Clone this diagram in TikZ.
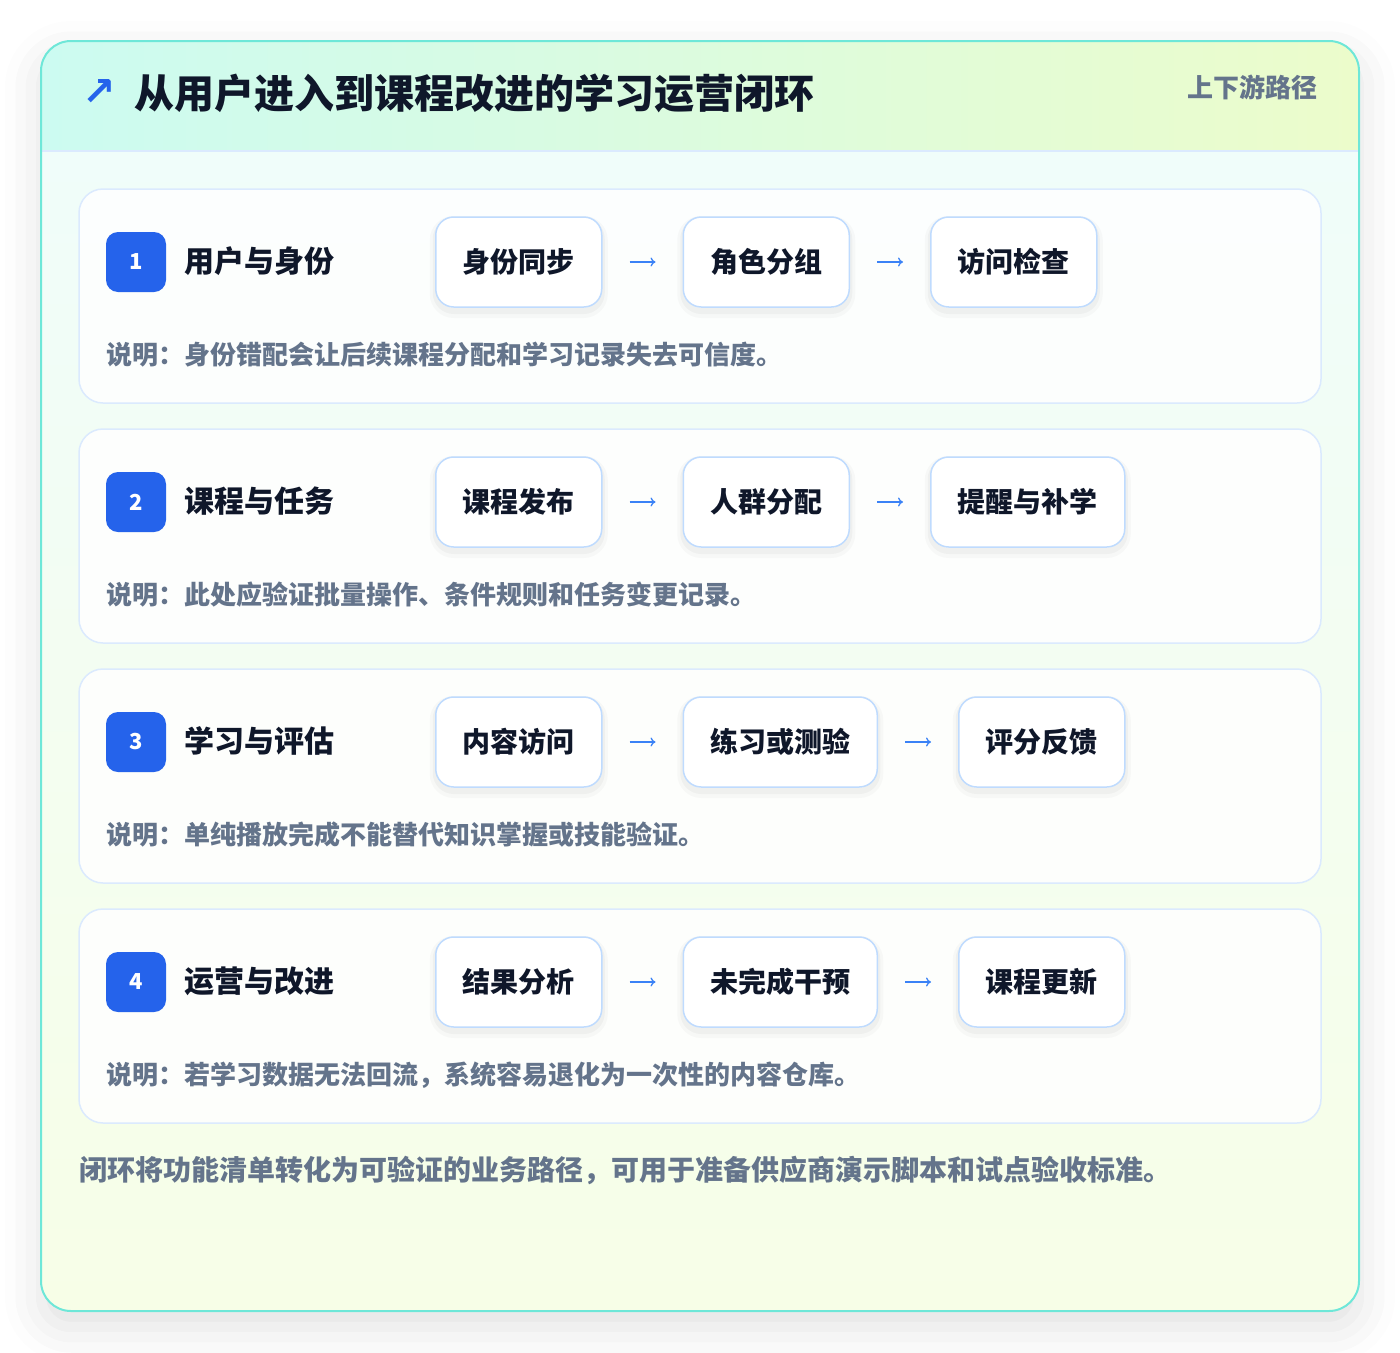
\documentclass[tikz,border=0pt]{standalone}
\usepackage{fontspec}
\setmainfont{Noto Sans CJK SC}
\newfontfamily\symfont{DejaVu Sans}
\usetikzlibrary{positioning}
\usetikzlibrary{arrows.meta}
\usetikzlibrary{shadows.blur}
\definecolor{ink}{HTML}{0F172A}
\definecolor{muted}{HTML}{64748B}
\definecolor{mblue}{HTML}{2563EB}
\definecolor{lblue}{HTML}{3B82F6}
\definecolor{boxedge}{HTML}{BFDBFE}
\definecolor{cardedge}{HTML}{DBEAFE}
\definecolor{mteal}{HTML}{6EE7D8}
\definecolor{headl}{HTML}{CCFBF1}
\definecolor{headr}{HTML}{ECFCCB}
\definecolor{bodyt}{HTML}{F0FDFA}
\definecolor{bodyb}{HTML}{F7FEE7}
\tikzset{badge/.style = {fill = mblue, rounded corners = 12pt, minimum size = 60pt, inner sep = 0pt,
    text = white, font = \bfseries\fontsize{22}{26}\selectfont}}
\tikzset{stagehead/.style = {anchor = west, inner sep = 0pt, text = ink, font = \bfseries\fontsize{30}{34}\selectfont}}
\tikzset{softshadow/.style = {preaction = {draw = black, draw opacity = 0.025, line width = 12pt,
    transform canvas = {yshift = -5pt}}, preaction = {draw = black, draw opacity = 0.03, line width = 6pt,
    transform canvas = {yshift = -4pt}}}}
\tikzset{stepbox/.style = {draw = boxedge, line width = 1.5pt, fill = white, rounded corners = 18pt,
    minimum width = 166pt, minimum height = 90pt, inner xsep = 27pt, text = ink,
    font = \bfseries\fontsize{28}{32}\selectfont, softshadow}}
\tikzset{card/.style = {draw = cardedge, line width = 1.5pt, fill = white, fill opacity = 0.85, rounded corners = 24pt}}
\tikzset{note/.style = {anchor = west, inner sep = 0pt, text = muted, font = \bfseries\fontsize{26}{30}\selectfont}}
\tikzset{flow/.style = {lblue, line width = 1.3pt, -{To[length = 5pt, width = 9pt]}}}

\begin{document}
\begin{tikzpicture}[x = 1pt, y = -1pt]
  \useasboundingbox (0, 0) rectangle (1400, 1352);
  \path [rounded corners = 30pt, fill = white,
    blur shadow = {shadow xshift = 0pt, shadow yshift = -16pt, shadow blur radius = 36pt, shadow opacity = 12}]
    (41, 41) rectangle (1359, 1311);
  \begin{scope}
    \clip [rounded corners = 30pt] (41, 41) rectangle (1359, 1311);
    \shade [top color = bodyt, bottom color = bodyb] (41, 151) rectangle (1359, 1311);
    \shade [left color = headl, right color = headr] (41, 41) rectangle (1359, 151);
    \draw [cardedge, line width = 2pt] (41, 151) -- (1359, 151);
  \end{scope}
  \draw [mteal, line width = 2pt, rounded corners = 30pt] (41, 41) rectangle (1359, 1311);

  \node [text = mblue, font = \symfont\bfseries\fontsize{40}{44}\selectfont] (icon) at (99, 93) {↗};
  \node [anchor = west, inner sep = 0pt, text = ink, font = \bfseries\fontsize{40}{46}\selectfont]
    (title) at (134, 93) {从用户进入到课程改进的学习运营闭环};
  \node [anchor = east, inner sep = 0pt, text = muted, font = \bfseries\fontsize{26}{30}\selectfont]
    (tag) at (1318, 87) {上下游路径};

  \foreach \r/\n/\head/\sa/\sb/\sc/\note in {
      0/1/用户与身份/身份同步/角色分组/访问检查/{说明：身份错配会让后续课程分配和学习记录失去可信度。},
      1/2/课程与任务/课程发布/人群分配/提醒与补学/{说明：此处应验证批量操作、条件规则和任务变更记录。},
      2/3/学习与评估/内容访问/练习或测验/评分反馈/{说明：单纯播放完成不能替代知识掌握或技能验证。},
      3/4/运营与改进/结果分析/未完成干预/课程更新/{说明：若学习数据无法回流，系统容易退化为一次性的内容仓库。}} {
    \pgfmathsetmacro\y{189 + 240 * \r}
    \draw [card] (79, \y) rectangle (1321, \y + 214);
    \node [badge] (num\n) at (136, \y + 73) {\n};
    \node [stagehead] (head\n) at (184, \y + 72) {\head};
    \node [stepbox, anchor = west] (a\n) at (435, \y + 73) {\sa};
    \node [stepbox, right = 80pt of a\n] (b\n) {\sb};
    \node [stepbox, right = 80pt of b\n] (c\n) {\sc};
    \draw [flow] ([xshift = 27pt] a\n.east) -- ([xshift = -27pt] b\n.west);
    \draw [flow] ([xshift = 27pt] b\n.east) -- ([xshift = -27pt] c\n.west);
    \node [note] (note\n) at (106, \y + 166) {\note};
  }

  \node [note, font = \bfseries\fontsize{28}{32}\selectfont] (foot) at (79, 1170)
    {闭环将功能清单转化为可验证的业务路径，可用于准备供应商演示脚本和试点验收标准。};
\end{tikzpicture}
\end{document}
